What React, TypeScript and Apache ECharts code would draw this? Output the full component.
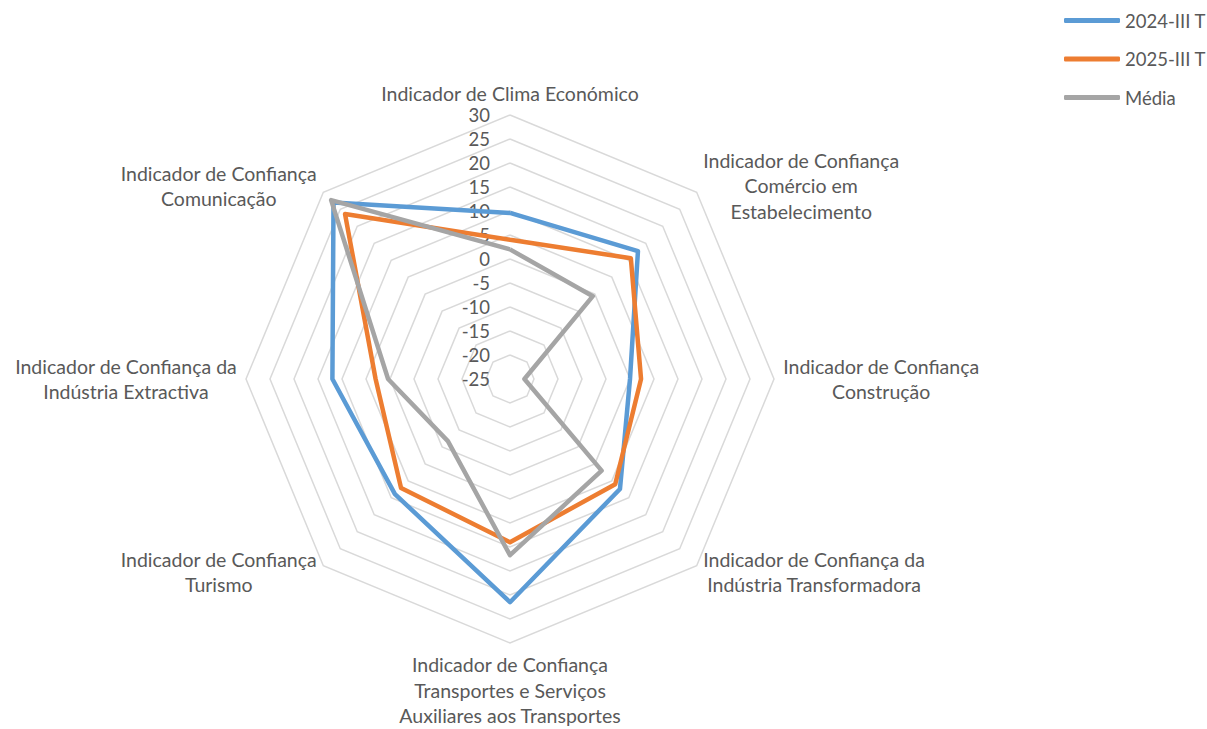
import React, { useEffect, useRef } from 'react';
import * as echarts from 'echarts';

// Categories listed clockwise starting at the top
const indicatorLines: string[][] = [
  ['Indicador de Clima Económico'],
  ['Indicador de Confiança', 'Comércio em', 'Estabelecimento'],
  ['Indicador de Confiança', 'Construção'],
  ['Indicador de Confiança da', 'Indústria Transformadora'],
  ['Indicador de Confiança', 'Transportes e Serviços', 'Auxiliares aos Transportes'],
  ['Indicador de Confiança', 'Turismo'],
  ['Indicador de Confiança da', 'Indústria Extractiva'],
  ['Indicador de Confiança', 'Comunicação'],
];
const seriesNames = ['2024-III T', '2025-III T', 'Média'];
const values2024 = [9.6, 12.7, 0, 7.4, 21.5, 8.9, 12, 27];
const values2025 = [4, 10.6, 2.3, 6, 9, 7.1, 3, 23.6];
const valuesMedia = [2, -0.6, -22, 2, 11.7, -6.7, 0.4, 27.7];
const axisMin = -25;
const axisMax = 30;
const axisStep = 5;
const colors = ['#5B9BD5', '#ED7D31', '#A5A5A5'];

const FONT = 'Lato, "Open Sans", sans-serif';
const TEXT_COLOR = '#595959';

export default function App() {
  const ref = useRef<HTMLDivElement>(null);
  useEffect(() => {
    if (!ref.current) return;
    const chart = echarts.init(ref.current, undefined, { renderer: 'svg' });
    const splitNumber = (axisMax - axisMin) / axisStep;
    // ECharts radar runs counter-clockwise; reorder so categories appear clockwise
    const n = indicatorLines.length;
    const order = indicatorLines.map((_, i) => (i === 0 ? 0 : n - i));
    const indicator = order.map((idx, i) => {
      const ind: any = { name: indicatorLines[idx].join('\n'), min: axisMin, max: axisMax };
      if (i === 0) {
        ind.axisLabel = {
          show: true,
          fontSize: 18.5,
          color: TEXT_COLOR,
          fontFamily: FONT,
          margin: 20,
          showMinLabel: true,
          showMaxLabel: true,
        };
      }
      return ind;
    });
    const allValues = [values2024, values2025, valuesMedia];
    chart.setOption({
      animation: false,
      color: colors,
      legend: {
        orient: 'vertical',
        left: 1059,
        top: 5,
        itemWidth: 56,
        itemHeight: 5,
        itemGap: 17.5,
        icon: 'roundRect',
        data: seriesNames,
        textStyle: { fontSize: 18.5, color: TEXT_COLOR, fontFamily: FONT, lineHeight: 21 },
      },
      radar: {
        center: [510, 379],
        radius: 264,
        startAngle: 90,
        shape: 'polygon',
        splitNumber,
        nameGap: 9,
        indicator,
        axisName: {
          color: TEXT_COLOR,
          fontFamily: FONT,
          fontSize: 19.5,
          formatter: (name: string) =>
            name
              .split('\n')
              .map((l) => `{c|${l}}`)
              .join('\n'),
          rich: {
            c: {
              align: 'center',
              fontSize: 19.5,
              fontFamily: FONT,
              color: TEXT_COLOR,
              lineHeight: 25.5,
            },
          },
        },
        axisLine: { show: false },
        axisTick: { show: false },
        axisLabel: { show: false },
        splitLine: { lineStyle: { color: '#D9D9D9', width: 1.5 } },
        splitArea: { show: false },
      },
      series: [
        {
          type: 'radar',
          symbol: 'none',
          data: seriesNames.map((s, i) => ({
            name: s,
            value: order.map((idx) => allValues[i][idx]),
            lineStyle: { width: 4.5, color: colors[i] },
            itemStyle: { color: colors[i] },
          })),
        },
      ],
    });
    return () => chart.dispose();
  }, []);
  return (
    <div
      ref={ref}
      style={{ position: 'fixed', left: 0, top: 0, width: 1207, height: 729, background: '#fff' }}
    />
  );
}
